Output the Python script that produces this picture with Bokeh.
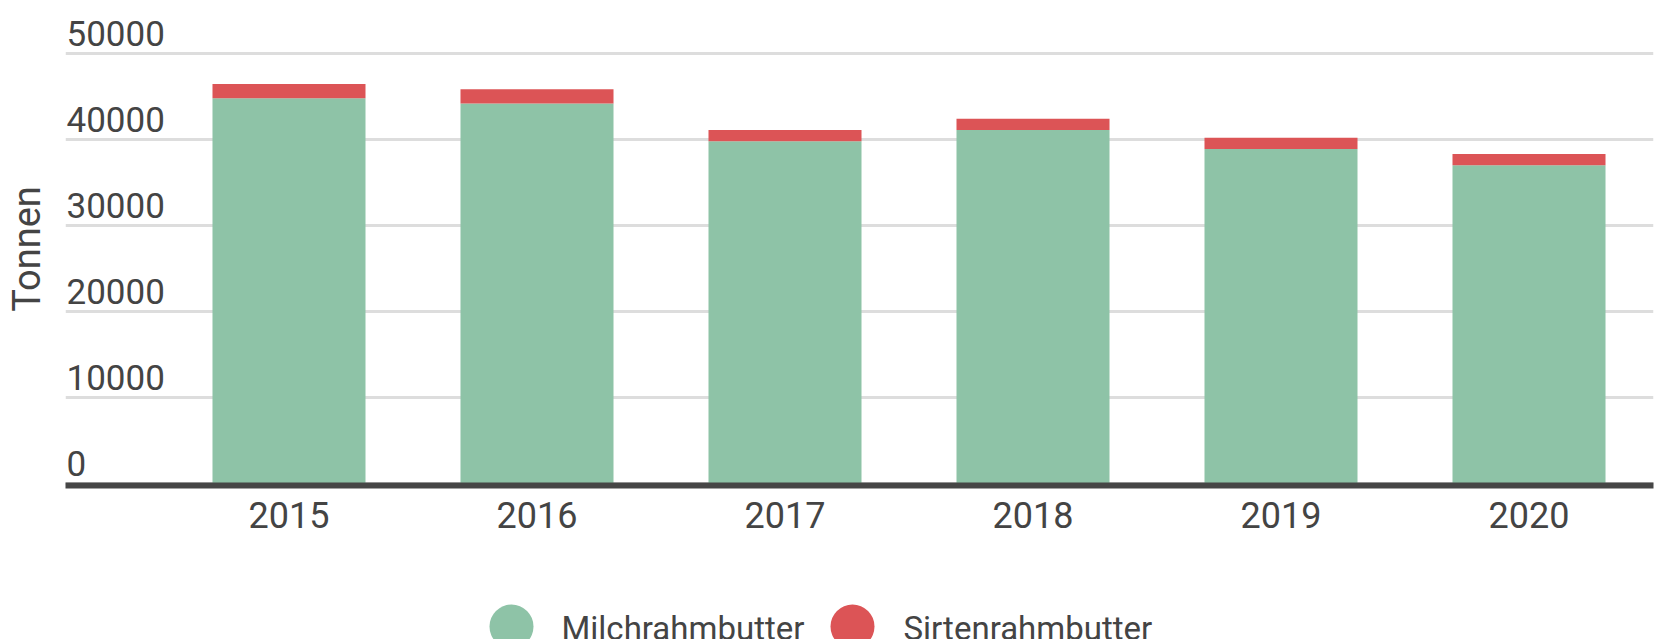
from bokeh.plotting import figure
from bokeh.models import Range1d, FixedTicker, ColumnDataSource
from bokeh.layouts import column
from bokeh.core.properties import value
from bokeh.embed import file_html
from bokeh.resources import INLINE

# ---- data ----
years = [2015, 2016, 2017, 2018, 2019, 2020]
milchrahmbutter = [44800, 44200, 39800, 41100, 38900, 37000]
sirtenrahmbutter = [1650, 1650, 1300, 1300, 1300, 1300]
y_ticks = [0, 10000, 20000, 30000, 40000, 50000]
series_names = ["Milchrahmbutter", "Sirtenrahmbutter"]
colors = ["#8ec3a7", "#dc5456"]
y_title = "Tonnen"

FONT = "Roboto"
TEXT = "#444444"

source = ColumnDataSource(dict(year=years,
                               Milchrahmbutter=milchrahmbutter,
                               Sirtenrahmbutter=sirtenrahmbutter))

x_start, x_end = 2014.0988, 2020.502
p = figure(width=1663, height=560, frame_width=1588, frame_height=473,
           x_range=Range1d(x_start, x_end), y_range=Range1d(-233, 54767),
           output_backend="svg", toolbar_location=None,
           min_border_left=65, min_border_right=10,
           min_border_top=12, min_border_bottom=75)
p.outline_line_color = None
p.background_fill_color = "white"

p.vbar_stack(series_names, x="year", width=0.617, color=colors,
             line_color=None, source=source)

# grid
p.xgrid.visible = False
p.ygrid.ticker = FixedTicker(ticks=y_ticks)
p.ygrid.grid_line_color = "#dddddd"
p.ygrid.grid_line_width = 3

# y tick labels sit above the gridlines, inside the plot
p.text(x=[x_start] * len(y_ticks), y=y_ticks, text=[str(v) for v in y_ticks],
       text_font=value(FONT), text_font_size="35px", text_color=TEXT,
       text_baseline="alphabetic", text_align="left", x_offset=1, y_offset=-20)

# x axis
p.xaxis.ticker = FixedTicker(ticks=years)
p.xaxis.major_label_text_font = FONT
p.xaxis.major_label_text_font_size = "36px"
p.xaxis.major_label_text_color = TEXT
p.xaxis.major_tick_line_color = None
p.xaxis.minor_tick_line_color = None
p.xaxis.axis_line_width = 6
p.xaxis.axis_line_color = "#464646"
p.xaxis.major_label_standoff = 10

# y axis: only the title
p.yaxis.ticker = FixedTicker(ticks=[])
p.yaxis.major_tick_line_color = None
p.yaxis.minor_tick_line_color = None
p.yaxis.axis_line_color = None
p.yaxis.major_tick_out = 0
p.yaxis.major_label_standoff = 0
p.yaxis.axis_label = y_title
p.yaxis.axis_label_text_font = FONT
p.yaxis.axis_label_text_font_size = "38px"
p.yaxis.axis_label_text_font_style = "normal"
p.yaxis.axis_label_text_color = TEXT
p.yaxis.axis_label_standoff = 17

# legend strip (its frame is aligned with the chart frame: x 65..1653)
leg = figure(width=1663, height=79, x_range=Range1d(65, 1653), y_range=Range1d(79, 0),
             output_backend="svg", toolbar_location=None,
             min_border_left=65, min_border_right=10, min_border_top=0, min_border_bottom=0)
leg.axis.visible = False
leg.grid.visible = False
leg.outline_line_color = None
leg_x_marker = [511, 852]
leg_x_text = [561, 903]
leg.scatter(x=leg_x_marker, y=[66, 66], size=44, color=colors, line_color=None)
leg.text(x=leg_x_text, y=[68, 68], text=series_names,
         text_font=value(FONT), text_font_size="33px", text_color=TEXT,
         text_baseline="alphabetic", text_align="left")

layout = column(p, leg, spacing=0)
open("out.html", "w").write(file_html(layout, INLINE))
